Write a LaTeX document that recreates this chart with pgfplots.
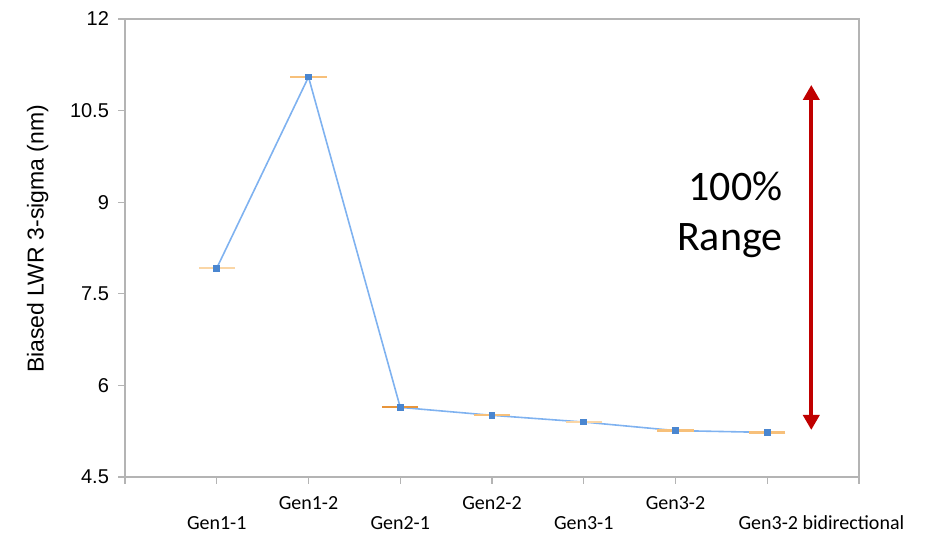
\documentclass[border=0pt]{standalone}
\usepackage{pgfplots}
\pgfplotsset{compat=1.18}
\usetikzlibrary{arrows.meta}
\usepackage{fontspec}
\setmainfont{Liberation Sans}
\newfontfamily\calfont{Carlito}
\definecolor{axgray}{HTML}{B4B4B4}
\definecolor{lineblue}{HTML}{7FB2F0}
\definecolor{markblue}{HTML}{4A86D0}
\definecolor{orA}{HTML}{F7C07A}
\definecolor{orB}{HTML}{FAD6A6}
\definecolor{orC}{HTML}{E8953A}
\definecolor{darkred}{HTML}{C00000}
\begin{document}
\begin{tikzpicture}
\begin{axis}[
  scale only axis, width=367pt, height=229pt,
  at={(0,0)}, anchor=south west,
  xmin=0, xmax=8, ymin=4.5, ymax=12,
  xtick={0,1,2,3,4,5,6,7,8}, xticklabels={},
  ytick={4.5,6,7.5,9,10.5,12},
  yticklabels={4.5,6,7.5,9,10.5,12},
  tick align=outside, xtick pos=bottom, ytick pos=left,
  major tick length=3.5pt,
  axis line style={axgray, line width=0.6pt},
  tick style={axgray, line width=0.6pt},
  yticklabel style={font=\fontsize{10}{12}\selectfont, xshift=-1pt},
  ylabel={Biased LWR 3-sigma (nm)},
  ylabel style={font=\fontsize{11.5}{13}\selectfont, at={(ticklabel cs:0.52)}, yshift=4pt},
  clip=false,
]
% orange horizontal bars
\addplot[only marks, mark=-, mark size=9pt, mark options={orB, line width=1.1pt}] coordinates {(1,7.92) (5,5.40)};
\addplot[only marks, mark=-, mark size=9pt, mark options={orA, line width=1.1pt}] coordinates {(2,11.05) (4,5.51) (6,5.26) (7,5.23)};
\addplot[only marks, mark=-, mark size=9pt, mark options={orC, line width=0.9pt}] coordinates {(3,5.64)};
% main line
\addplot[lineblue, line width=0.8pt, mark=square*, mark size=1.3pt, mark options={markblue, fill=markblue}]
  coordinates {(1,7.92) (2,11.05) (3,5.64) (4,5.51) (5,5.40) (6,5.26) (7,5.23)};
% range arrow
\addplot[darkred, line width=2pt, {Triangle[width=8pt,length=7.5pt]}-{Triangle[width=8pt,length=7.5pt]}]
  coordinates {(7.48,10.92) (7.48,5.27)};
\node[font=\calfont\fontsize{21}{25}\selectfont, align=right, anchor=base east, inner sep=0pt] at (axis cs:7.17,8.21) {100\%\\Range};
% category labels (staggered)
\begin{scope}[every node/.style={font=\calfont\fontsize{10}{12}\selectfont}]
\node at ([yshift=-23pt]axis cs:1,4.5) {Gen1-1};
\node at ([yshift=-13pt]axis cs:2,4.5) {Gen1-2};
\node at ([yshift=-23pt]axis cs:3,4.5) {Gen2-1};
\node at ([yshift=-13pt]axis cs:4,4.5) {Gen2-2};
\node at ([yshift=-23pt]axis cs:5,4.5) {Gen3-1};
\node at ([yshift=-13pt]axis cs:6,4.5) {Gen3-2};
\node at ([yshift=-23pt]axis cs:7.59,4.5) {Gen3-2 bidirectional};
\end{scope}
\end{axis}
\pgfresetboundingbox
\path[use as bounding box] (-62.5pt,-31pt) rectangle (407.5pt,238.5pt);
\end{tikzpicture}
\end{document}
